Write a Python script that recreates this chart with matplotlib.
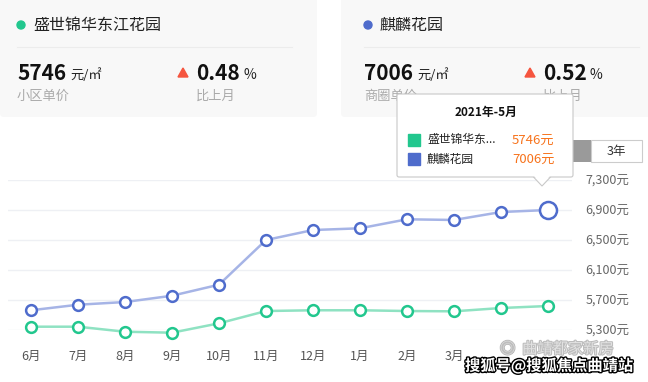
import matplotlib.pyplot as plt
import matplotlib.patheffects as pe
from matplotlib.patches import Rectangle, FancyBboxPatch, Polygon, Circle
from matplotlib.ticker import FuncFormatter

plt.rcParams['font.family'] = ['Noto Sans CJK SC', 'DejaVu Sans']

months = ['6月', '7月', '8月', '9月', '10月', '11月', '12月', '1月', '2月', '3月', '4月', '5月']
shengshi = [5344, 5344, 5277, 5264, 5389, 5553, 5563, 5563, 5553, 5549, 5593, 5620]
qilin = [5563, 5637, 5673, 5757, 5904, 6500, 6633, 6656, 6776, 6767, 6873, 6900]
y_ticks = [5300, 5700, 6100, 6500, 6900, 7300]

names = ['盛世锦华东江花园', '麒麟花园']
prices = ['5746', '7006']
changes = ['0.48', '0.52']
price_labels = ['小区单价', '商圈单价']
tip_title = '2021年-5月'
tip_names = ['盛世锦华东...', '麒麟花园']

green, blue = '#22c78e', '#4f6ccc'
green_line, blue_line = '#8fe2c2', '#a6b4e6'

fig = plt.figure(figsize=(6.48, 3.82), dpi=100)

# header cards
bg = fig.add_axes([0, 0, 1, 1])
bg.set_xlim(0, 648)
bg.set_ylim(382, 0)
bg.axis('off')
for x0, x1 in [(0, 317), (341, 660)]:
    bg.add_patch(FancyBboxPatch((x0, -10), x1 - x0, 127, boxstyle='round,pad=0,rounding_size=4',
                                fc='#f8f8f8', ec='none'))
for i, (dx, tx) in enumerate([(17, 196), (364, 543)]):
    col = green if i == 0 else blue
    bg.add_patch(Circle((dx + 4, 25), 4, color=col))
    bg.text(dx + 16, 25, names[i], fontsize=11.5, color='#222', va='center')
    bg.plot([dx, dx + 275], [47, 47], color='#ececec', lw=0.8)
    bg.text(dx, 74, prices[i], fontsize=15, fontweight='bold', color='#111', va='center')
    bg.text(dx + 53, 75, '元/㎡', fontsize=9.5, color='#222', va='center')
    bg.add_patch(Polygon([[tx - 18, 77], [tx - 8, 77], [tx - 13, 68]], color='#f5553f'))
    bg.text(tx, 74, changes[i], fontsize=15, fontweight='bold', color='#111', va='center')
    bg.text(tx + 47, 75, '%', fontsize=10, color='#222', va='center')
    bg.text(dx, 96, price_labels[i], fontsize=9.5, color='#aaaaaa', va='center')
    bg.text(tx, 96, '比上月', fontsize=9.5, color='#aaaaaa', va='center')

# line chart
ax = fig.add_axes([7.5 / 648, 52 / 382, 564 / 648, 150 / 382])
x = list(range(len(months)))
ax.plot(x, qilin, color=blue_line, lw=1.8, zorder=2, clip_on=False)
ax.plot(x, shengshi, color=green_line, lw=1.8, zorder=2, clip_on=False)
ax.scatter(x[:-1], qilin[:-1], s=60, facecolor='white', edgecolor=blue, lw=1.8, zorder=3, clip_on=False)
ax.scatter(x[-1:], qilin[-1:], s=150, facecolor='white', edgecolor=blue, lw=1.8, zorder=3, clip_on=False)
ax.scatter(x, shengshi, s=60, facecolor='white', edgecolor=green, lw=1.8, zorder=3, clip_on=False)
ax.set_xlim(-0.5, len(months) - 0.5)
ax.set_ylim(y_ticks[0], y_ticks[-1])
ax.set_yticks(y_ticks)
ax.yaxis.tick_right()
ax.yaxis.set_major_formatter(FuncFormatter(lambda v, p: f'{int(v):,}元'))
ax.set_xticks(x)
ax.set_xticklabels(months)
for lab in ax.get_xticklabels()[-2:]:
    lab.set_visible(False)
ax.tick_params(axis='y', length=0, pad=10, labelsize=9, labelcolor='#666')
ax.tick_params(axis='x', length=0, pad=14, labelsize=9, labelcolor='#555')
ax.grid(axis='y', color='#eef0f4', lw=1)
ax.set_axisbelow(True)
for s in ax.spines.values():
    s.set_visible(False)
ax.patch.set_alpha(0)

# overlay: buttons, tooltip, watermark
ov = fig.add_axes([0, 0, 1, 1], zorder=10)
ov.set_xlim(0, 648)
ov.set_ylim(382, 0)
ov.axis('off')
ov.patch.set_alpha(0)
ov.add_patch(Rectangle((560, 140), 31, 22, fc='#9a9a9a', ec='none'))
ov.add_patch(Rectangle((591, 140), 51, 22, fc='white', ec='#cccccc', lw=0.8))
ov.text(616, 151, '3年', fontsize=9, color='#333', ha='center', va='center')

ov.add_patch(Polygon([[533, 176.5], [551, 176.5], [542, 186]], fc='white', ec='#c8c8c8', lw=0.8))
ov.add_patch(FancyBboxPatch((397, 94), 176, 83, boxstyle='round,pad=0,rounding_size=2',
                            fc='white', ec='#c8c8c8', lw=0.8))
ov.add_patch(Polygon([[534, 176], [550, 176], [542, 184.5]], fc='white', ec='none'))
ov.text(486, 112, tip_title, fontsize=8.5, fontweight='bold', color='#111', ha='center', va='center')
tip_vals = [prices[0] + '元', prices[1] + '元']
for j, (yy, col) in enumerate([(140, green), (159, blue)]):
    ov.add_patch(Rectangle((408, yy - 6), 12, 12, color=col))
    ov.text(427, yy, tip_names[j], fontsize=8.5, color='#222', va='center')
    ov.text(512, yy, tip_vals[j], fontsize=9.5, color='#f7731c', va='center')

ov.text(500, 349, '◎  曲靖都家新房', fontsize=11, color='white', alpha=0.55, va='center',
        path_effects=[pe.withStroke(linewidth=1.5, foreground='#888888')])
ov.text(465, 366, '搜狐号@搜狐焦点曲靖站', fontsize=11, fontweight='bold', color='white', va='center',
        path_effects=[pe.withStroke(linewidth=2, foreground='black')])

fig.savefig('out.png', dpi=100)
